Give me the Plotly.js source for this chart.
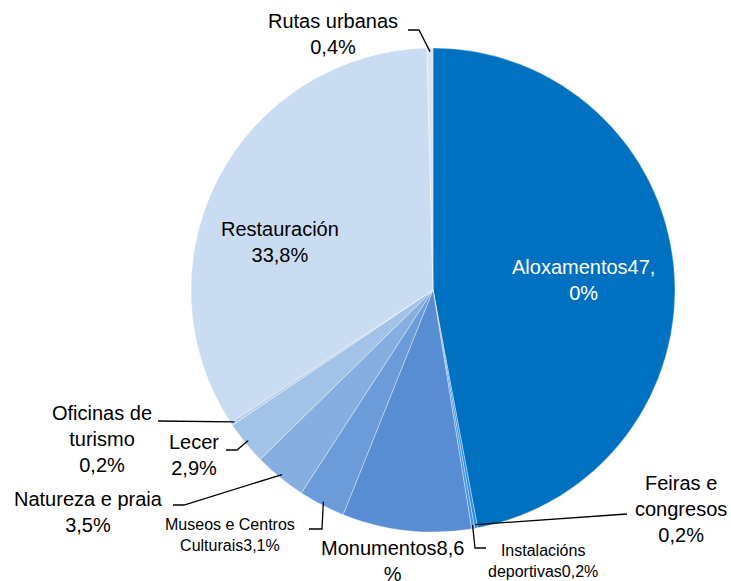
<!DOCTYPE html>
<html>
<head>
<meta charset="utf-8">
<script src="https://cdn.plot.ly/plotly-3.0.1.min.js"></script>
<style>body{margin:0;background:#fff}</style>
</head>
<body>
<div id="plot" style="width:731px;height:581px"></div>
<script>
// Slice data, clockwise from 12 o'clock
let categories = ["Aloxamentos", "Feiras e congresos", "Instalacións deportivas", "Monumentos",
  "Museos e Centros Culturais", "Natureza e praia", "Lecer", "Oficinas de turismo", "Restauración", "Rutas urbanas"];
let shares = [47.0, 0.2, 0.2, 8.6, 3.1, 3.5, 2.9, 0.2, 33.8, 0.4];
let colors = ["#0070c0", "#2a8ae0", "#3f95e4", "#588dd3", "#6b9bd9", "#87aee1", "#a3c2e8",
  "#b5ceec", "#cadcf1", "#d9e5f5"];

// Label text for each slice
let labelText = ["Aloxamentos47,<br>0%", "Feiras e<br>congresos<br>0,2%", "Instalacións<br>deportivas0,2%",
  "Monumentos8,6<br>%", "Museos e Centros<br>Culturais3,1%", "Natureza e praia<br>3,5%", "Lecer<br>2,9%",
  "Oficinas de<br>turismo<br>0,2%", "Restauración<br>33,8%", "Rutas urbanas<br>0,4%"];

// plot area in pixels
let L = 191, T = 48, S = 484;
let cx = L + S / 2, cy = T + S / 2, R = S / 2;
function px(x) { return (x - L) / S; }
function py(y) { return (T + S - y) / S; }

// label centres (pixels) and leader line bends
let labelPos = [[583, 280], [681, 509], [543, 561], [392, 561], [230, 535], [88, 512], [194, 455],
  [102, 439], [280, 242], [333, 34]];
let labelSize = [20, 20, 16, 20, 16, 20, 20, 20, 20, 20];
let labelColor = ["#ffffff", "#000", "#000", "#000", "#000", "#000", "#000", "#000", "#000", "#000"];
let leaderBends = [null, [[627, 514]], [[475, 548], [486, 548]], null, [[322, 529], [309, 529]],
  [[184, 505], [173, 505]], [[237, 450], [226, 450]], [[158, 421]], null, [[419, 30], [408, 30]]];

let total = shares.reduce((a, b) => a + b, 0);
let cum = 0;
let shapes = [];
let annotations = [];
shares.forEach(function (v, i) {
  let mid = (cum + v / 2) / total * 2 * Math.PI;
  cum += v;
  annotations.push({
    x: px(labelPos[i][0]), y: py(labelPos[i][1]), xref: "paper", yref: "paper",
    text: labelText[i], showarrow: false, align: "center", xanchor: "center", yanchor: "middle",
    font: {family: "Liberation Sans, Arial", size: labelSize[i], color: labelColor[i]}
  });
  if (leaderBends[i]) {
    let pts = [[cx + R * 0.985 * Math.sin(mid), cy - R * 0.985 * Math.cos(mid)]].concat(leaderBends[i]);
    let path = pts.map((p, k) => (k ? "L" : "M") + px(p[0]) + "," + py(p[1])).join(" ");
    shapes.push({type: "path", xref: "paper", yref: "paper", path: path,
      line: {color: "#000", width: 1.3}});
  }
});

let trace1 = {
  type: "pie",
  labels: categories,
  values: shares,
  sort: false,
  direction: "clockwise",
  rotation: 0,
  textinfo: "none",
  hoverinfo: "label+percent",
  marker: {colors: colors, line: {color: "rgba(255,255,255,0.6)", width: 0.6}},
  domain: {x: [0, 1], y: [0, 1]}
};

let layout = {
  width: 731,
  height: 581,
  margin: {l: L, r: 731 - L - S, t: T, b: 581 - T - S},
  showlegend: false,
  paper_bgcolor: "#fff",
  shapes: shapes,
  annotations: annotations
};

Plotly.newPlot("plot", [trace1], layout, {displayModeBar: false});
</script>
</body>
</html>
